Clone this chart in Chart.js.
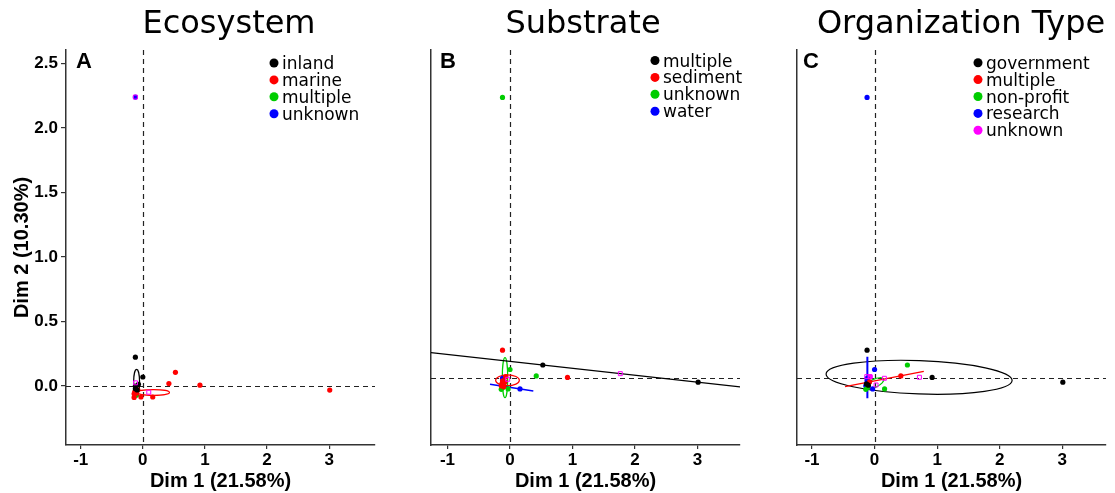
<!DOCTYPE html>
<html><head><meta charset="utf-8">
<script src="https://cdn.jsdelivr.net/npm/chart.js@4.4.1/dist/chart.umd.min.js"></script>
<style>
html,body{margin:0;padding:0;background:#fff;}
#wrap{position:relative;width:1115px;height:493px;overflow:hidden;background:#fff;}
canvas{position:absolute;top:0;}
</style></head><body>
<div id="wrap">
<canvas id="cA" width="380" height="493" style="left:0px"></canvas>
<canvas id="cB" width="365" height="493" style="left:380px"></canvas>
<canvas id="cC" width="370" height="493" style="left:745px"></canvas>
</div>
<script>
// ---- data (MCA individual coordinates) ----
const dim1 = [-0.12, -0.12, 0.00, 0.525, 0.42, 0.92, 3.01, 0.16, -0.03, -0.14, -0.10, -0.11, -0.13, -0.10, -0.12, -0.09, -0.14, -0.08, -0.07, -0.12, -0.11];
const dim2 = [2.24, 0.224, 0.07, 0.106, 0.019, 0.007, -0.031, -0.085, -0.085, -0.088, -0.068, -0.072, -0.045, -0.055, -0.02, -0.03, -0.06, -0.029, 0.013, 0.0, -0.035];
const ecosystem = ['unknown','inland','inland','marine','marine','marine','marine','marine','marine','marine','multiple','multiple','marine','marine','inland','inland','marine','marine','inland','inland','marine'];
const substrate = ['unknown','sediment','unknown','multiple','unknown','sediment','multiple','water','unknown','unknown','sediment','unknown','sediment','sediment','sediment','water','sediment','sediment','sediment','water','sediment'];
const orgType = ['research','government','research','non-profit','multiple','government','government','non-profit','research','non-profit','research','non-profit','government','government','research','research','research','multiple','unknown','research','research'];

const ecoCategories = ['inland','marine','multiple','unknown'];
const subCategories = ['multiple','sediment','unknown','water'];
const orgCategories = ['government','multiple','non-profit','research','unknown'];

const xTickValues = [-1, 0, 1, 2, 3];
const yTickValues = [0, 0.5, 1, 1.5, 2, 2.5];

// group mean points (open squares)
const ecoCentX = [-0.117, 0.096, -0.12];
const ecoCentY = [0.025, -0.048, 2.24];
const subCentX = [1.765, -0.037];
const subCentY = [0.037, -0.008];
const orgCentX = [-0.125, 0.157, 0.024, 0.717, -0.072];
const orgCentY = [0.013, 0.0, -0.053, 0.008, 0.013];

// confidence ellipses: group, centre, radii (data units), screen rotation (deg)
const ecoEllipseGroup = ['inland','marine'];
const ecoEllipseCx = [-0.10, 0.17];
const ecoEllipseCy = [0.03, -0.05];
const ecoEllipseRx = [0.048, 0.26];
const ecoEllipseRy = [0.10, 0.022];
const ecoEllipseRot = [0, 0];

const subEllipseGroup = ['unknown','sediment'];
const subEllipseCx = [-0.08, -0.04];
const subEllipseCy = [0.005, -0.016];
const subEllipseRx = [0.043, 0.19];
const subEllipseRy = [0.16, 0.043];
const subEllipseRot = [0, 0];

const orgEllipseGroup = ['government','non-profit'];
const orgEllipseCx = [0.712, 0.0];
const orgEllipseCy = [0.008, -0.04];
const orgEllipseRx = [1.488, 0.16];
const orgEllipseRy = [0.133, 0.032];
const orgEllipseRot = [2, -25];

// degenerate ellipses (drawn as segments): group, x1, y1, x2, y2
const subSegGroup = ['multiple','water'];
const subSegX1 = [-1.5, -0.32]; const subSegY1 = [0.217, -0.048];
const subSegX2 = [4.0, 0.373];  const subSegY2 = [-0.086, -0.101];
const orgSegGroup = ['multiple','research'];
const orgSegX1 = [-0.472, -0.115]; const orgSegY1 = [-0.067, 0.172];
const orgSegX2 = [0.787, -0.115];  const orgSegY2 = [0.056, -0.159];

// ---- styling ----
const GREEN = '#00CD00';
const ecoColors = {inland:'#000000', marine:'#FF0000', multiple:GREEN, unknown:'#0000FF'};
const subColors = {multiple:'#000000', sediment:'#FF0000', unknown:GREEN, water:'#0000FF'};
const orgColors = {government:'#000000', multiple:'#FF0000', 'non-profit':GREEN, research:'#0000FF', unknown:'#FF00FF'};
const AXFONT = "'Liberation Sans', Arial, sans-serif";
const TXFONT = "'DejaVu Sans', sans-serif";

const decor = {
  id: 'decor',
  beforeDatasetsDraw(chart, args, o) {
    const {ctx, chartArea: a, scales: {x, y}} = chart;
    ctx.save();
    ctx.beginPath(); ctx.rect(a.left, a.top, a.right - a.left, a.bottom - a.top); ctx.clip();
    ctx.strokeStyle = '#222'; ctx.lineWidth = 1.2; ctx.setLineDash([5, 4]);
    const x0 = Math.round(x.getPixelForValue(0)) + 0.5, y0 = Math.round(y.getPixelForValue(0)) + 0.5;
    ctx.beginPath(); ctx.moveTo(x0, a.top); ctx.lineTo(x0, a.bottom); ctx.stroke();
    ctx.beginPath(); ctx.moveTo(a.left, y0); ctx.lineTo(a.right, y0); ctx.stroke();
    ctx.setLineDash([]);
    const E = o.ell;
    for (let i = 0; i < E.group.length; i++) {
      const cx = x.getPixelForValue(E.cx[i]), cy = y.getPixelForValue(E.cy[i]);
      const rx = Math.abs(x.getPixelForValue(E.cx[i] + E.rx[i]) - cx);
      const ry = Math.abs(y.getPixelForValue(E.cy[i] + E.ry[i]) - cy);
      ctx.strokeStyle = o.colors[E.group[i]]; ctx.lineWidth = 1.2;
      ctx.beginPath(); ctx.ellipse(cx, cy, rx, ry, E.rot[i] * Math.PI / 180, 0, 2 * Math.PI); ctx.stroke();
    }
    ctx.restore();
  },
  afterDraw(chart, args, o) {
    const {ctx} = chart;
    ctx.save();
    ctx.fillStyle = '#000';
    ctx.font = "32px " + TXFONT; ctx.textAlign = 'center'; ctx.textBaseline = 'alphabetic';
    ctx.fillText(o.title, o.titleX, 33);
    ctx.font = "bold 22px " + AXFONT; ctx.textAlign = 'left';
    ctx.fillText(o.letter, o.letterX, 68);
    ctx.font = "17px " + TXFONT;
    o.cats.forEach((c, i) => {
      const yy = o.legY + i * 16.9;
      ctx.fillStyle = o.colors[c];
      ctx.beginPath(); ctx.arc(o.legX, yy, 4.5, 0, 2 * Math.PI); ctx.fill();
      ctx.fillStyle = '#000';
      ctx.fillText(c, o.legX + 8, yy + 6);
    });
    ctx.restore();
  }
};

function xScale(min, max) {
  return {
    type: 'linear', min: min, max: max,
    afterBuildTicks: s => { s.ticks = xTickValues.map(v => ({value: v})); },
    afterFit: s => { s.height = 48; },
    ticks: {color: '#000', font: {family: AXFONT, size: 17, weight: 'bold'}, padding: 1, maxRotation: 0, autoSkip: false, callback: v => String(v)},
    grid: {display: true, drawOnChartArea: false, drawTicks: true, tickLength: 4, color: '#333', lineWidth: 1.2},
    border: {display: true, color: '#333', width: 1.5},
    title: {display: true, text: 'Dim 1 (21.58%)', color: '#000', font: {family: AXFONT, size: 20, weight: 'bold'}, padding: {top: 0, bottom: 0}}
  };
}
function yScale(min, max, withLabels, w) {
  const s = {
    type: 'linear', min: min, max: max,
    afterBuildTicks: sc => { sc.ticks = yTickValues.map(v => ({value: v})); },
    afterFit: sc => { sc.width = w; },
    border: {display: true, color: '#333', width: 1.5}
  };
  if (withLabels) {
    s.ticks = {color: '#000', font: {family: AXFONT, size: 17, weight: 'bold'}, padding: 3, callback: v => Number(v).toFixed(1)};
    s.grid = {display: true, drawOnChartArea: false, drawTicks: true, tickLength: 5, color: '#333', lineWidth: 1.2};
    s.title = {display: true, text: 'Dim 2 (10.30%)', color: '#000', font: {family: AXFONT, size: 20, weight: 'bold'}, padding: {top: 10, bottom: 0}};
  } else {
    s.ticks = {display: false};
    s.grid = {display: false};
  }
  return s;
}

function buildDatasets(groups, cats, colors, centX, centY, seg) {
  const ds = [];
  ds.push({data: centX.map((v, i) => ({x: v, y: centY[i]})), pointStyle: 'rect', pointRadius: 2.8,
           backgroundColor: 'rgba(0,0,0,0)', borderColor: '#FF00FF', borderWidth: 1});
  cats.forEach(c => {
    const pts = [];
    groups.forEach((g, i) => { if (g === c) pts.push({x: dim1[i], y: dim2[i]}); });
    ds.push({data: pts, pointRadius: 2.6, backgroundColor: colors[c], borderColor: colors[c], borderWidth: 0});
  });
  if (seg) {
    seg.group.forEach((g, i) => {
      ds.push({data: [{x: seg.x1[i], y: seg.y1[i]}, {x: seg.x2[i], y: seg.y2[i]}], showLine: true, pointRadius: 0,
               borderColor: colors[g], borderWidth: seg.w[i]});
    });
  }
  return ds;
}

function makeChart(id, p) {
  return new Chart(document.getElementById(id), {
    type: 'scatter',
    data: {datasets: p.datasets},
    options: {
      responsive: false, animation: false, devicePixelRatio: 1,
      layout: {padding: {top: 50, right: p.padRight, bottom: 0, left: 0}},
      scales: {x: xScale(p.xmin, p.xmax), y: yScale(p.ymin, p.ymax, p.yLabels, p.yWidth)},
      plugins: {legend: {display: false}, tooltip: {enabled: false}, title: {display: false},
        decor: {title: p.title, titleX: p.titleX, letter: p.letter, letterX: p.letterX,
                cats: p.cats, colors: p.colors, legX: p.legX, legY: p.legY, ell: p.ell}}
    },
    plugins: [decor]
  });
}

makeChart('cA', {
  datasets: buildDatasets(ecosystem, ecoCategories, ecoColors, ecoCentX, ecoCentY, null),
  xmin: -1.237, xmax: 3.739, ymin: -0.457, ymax: 2.605, yLabels: true, yWidth: 66, padRight: 3,
  title: 'Ecosystem', titleX: 229, letter: 'A', letterX: 76,
  cats: ecoCategories, colors: ecoColors, legX: 274, legY: 63,
  ell: {group: ecoEllipseGroup, cx: ecoEllipseCx, cy: ecoEllipseCy, rx: ecoEllipseRx, ry: ecoEllipseRy, rot: ecoEllipseRot}
});
makeChart('cB', {
  datasets: buildDatasets(substrate, subCategories, subColors, subCentX, subCentY,
    {group: subSegGroup, x1: subSegX1, y1: subSegY1, x2: subSegX2, y2: subSegY2, w: [1.3, 1.4]}),
  xmin: -1.264, xmax: 3.68, ymin: -0.532, ymax: 2.618, yLabels: false, yWidth: 51, padRight: 5,
  title: 'Substrate', titleX: 203, letter: 'B', letterX: 60,
  cats: subCategories, colors: subColors, legX: 275, legY: 60.5,
  ell: {group: subEllipseGroup, cx: subEllipseCx, cy: subEllipseCy, rx: subEllipseRx, ry: subEllipseRy, rot: subEllipseRot}
});
makeChart('cC', {
  datasets: buildDatasets(orgType, orgCategories, orgColors, orgCentX, orgCentY,
    {group: orgSegGroup, x1: orgSegX1, y1: orgSegY1, x2: orgSegX2, y2: orgSegY2, w: [1.3, 2]}),
  xmin: -1.24, xmax: 3.70, ymin: -0.532, ymax: 2.618, yLabels: false, yWidth: 52, padRight: 9,
  title: 'Organization Type', titleX: 216, letter: 'C', letterX: 58,
  cats: orgCategories, colors: orgColors, legX: 233, legY: 62.7,
  ell: {group: orgEllipseGroup, cx: orgEllipseCx, cy: orgEllipseCy, rx: orgEllipseRx, ry: orgEllipseRy, rot: orgEllipseRot}
});
</script>
</body></html>
